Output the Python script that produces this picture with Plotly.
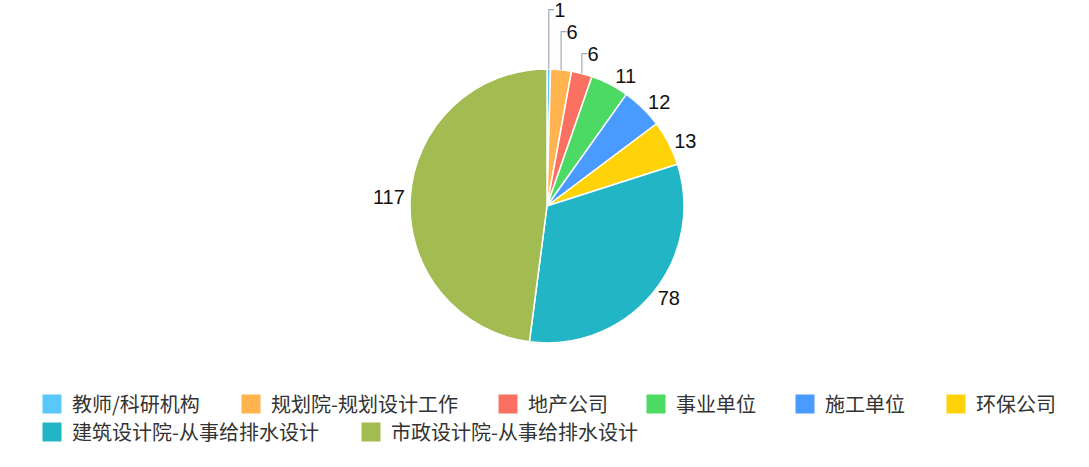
import plotly.graph_objects as go

categories = ["教师/科研机构", "规划院-规划设计工作", "地产公司", "事业单位", "施工单位",
              "环保公司", "建筑设计院-从事给排水设计", "市政设计院-从事给排水设计"]
values = [1, 6, 6, 11, 12, 13, 78, 117]
colors = ["#5ac8fa", "#ffb44f", "#fa7161", "#4cd964", "#4a9bff", "#ffd30a", "#22b5c5", "#a3bc52"]

W, H = 1089, 467
FONT = "Noto Sans CJK SC, Microsoft YaHei, sans-serif"
CX, CY, R = 547, 206, 137

fig = go.Figure()
fig.add_trace(go.Pie(
    labels=categories,
    values=values,
    sort=False,
    direction="clockwise",
    rotation=0,
    marker=dict(colors=colors, line=dict(color="#ffffff", width=1.5)),
    texttemplate="<span style='color:#111111;font-size:20px;font-family:Liberation Sans'>%{value}</span>",
    textposition="outside",
    outsidetextfont=dict(size=9, color="#9aa7b4", family="Liberation Sans"),
    domain=dict(x=[(CX - R) / W, (CX + R) / W], y=[(H - CY - R) / H, (H - CY + R) / H]),
    automargin=False,
    showlegend=False,
    hoverinfo="label+value+percent",
))

# legend entries (one legend per entry so they flow like the original)
legend_left_px = [32, 231, 488, 636, 785, 936, 32, 351]
legend_mid_px = [404, 404, 404, 404, 404, 404, 432, 432]
layout_legends = {}
for i, (name, col) in enumerate(zip(categories, colors)):
    key = "legend" if i == 0 else f"legend{i + 1}"
    fig.add_trace(go.Scatter(
        x=[None], y=[None], mode="markers", name=name,
        marker=dict(symbol="square", size=16, color=col, line=dict(color=col, width=3)),
        legend=key, showlegend=True, hoverinfo="skip",
    ))
    layout_legends[key] = dict(
        x=legend_left_px[i] / W, xref="container", xanchor="left",
        y=1 - legend_mid_px[i] / H, yref="container", yanchor="middle",
        orientation="h", bgcolor="rgba(0,0,0,0)",
        font=dict(size=20, color="#333333", family=FONT),
        itemsizing="trace", itemclick=False, itemdoubleclick=False,
    )

fig.update_layout(
    width=W, height=H,
    margin=dict(l=0, r=0, t=0, b=0, autoexpand=False),
    paper_bgcolor="#ffffff",
    plot_bgcolor="rgba(0,0,0,0)",
    font=dict(family=FONT, color="#333333"),
    xaxis=dict(visible=False),
    yaxis=dict(visible=False),
    **layout_legends,
)

fig.write_html("out.html")
